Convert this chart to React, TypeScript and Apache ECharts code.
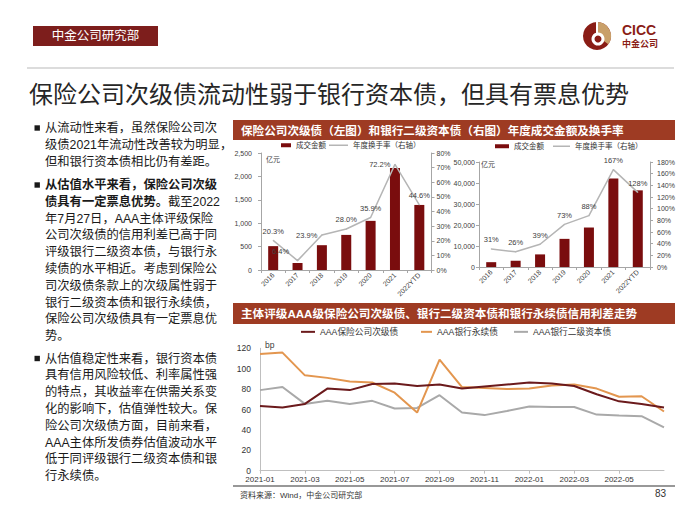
import React, { useEffect, useRef } from "react";
import * as echarts from "echarts";

// ---------------- data ----------------
const YEARS = ["2016", "2017", "2018", "2019", "2020", "2021", "2022YTD"];
const INS_VOLUME = [510, 150, 530, 750, 1050, 2180, 1390]; // 亿元
const INS_TURNOVER = [20.3, 6.4, 23.9, 28.0, 35.9, 72.2, 44.6]; // %
const BANK_VOLUME = [2300, 3000, 6000, 13400, 18800, 42200, 36500]; // 亿元
const BANK_TURNOVER = [31, 26, 39, 73, 88, 167, 128]; // %

const MONTHS = [
  "2021-01", "2021-02", "2021-03", "2021-04", "2021-05", "2021-06", "2021-07",
  "2021-08", "2021-09", "2021-10", "2021-11", "2021-12", "2022-01", "2022-02",
  "2022-03", "2022-04", "2022-05", "2022-06", "2022-07",
];
const INS_SPREAD = [63.5, 62, 65.5, 80.5, 79, 85, 85.5, 83, 84.5, 80.5, 82.5, 84.5, 86.5, 85.5, 83, 75, 68, 65.5, 62];
const PERP_SPREAD = [114.5, 115.8, 93.5, 91, 87.5, 86.5, 76.5, 57, 109, 82, 81, 80, 80.5, 83.5, 84.5, 80.5, 72.5, 73, 58];
const TIER2_SPREAD = [79, 82, 65.5, 68.5, 65.5, 68.5, 61, 61.5, 74, 57, 54.5, 58.5, 63, 62.5, 62.5, 55, 54, 53.5, 42.5];

const S_VOLUME = "成交金额";
const S_TURNOVER = "年度换手率（右轴）";
const S_INS = "AAA保险公司次级债";
const S_PERP = "AAA银行永续债";
const S_TIER2 = "AAA银行二级资本债";

const PAGE_TITLE = "保险公司次级债流动性弱于银行资本债，但具有票息优势";
const DEPT = "中金公司研究部";
const HEADER_1 = "保险公司次级债（左图）和银行二级资本债（右图）年度成交金额及换手率";
const HEADER_2 = "主体评级AAA级保险公司次级债、银行二级资本债和银行永续债信用利差走势";
const SOURCE = "资料来源：Wind，中金公司研究部";
const PAGE_NO = "83";

const PARAGRAPHS: string[][] = [
  ["从流动性来看，虽然保险公司次", "级债2021年流动性改善较为明显，", "但和银行资本债相比仍有差距。"],
  [
    "从估值水平来看，保险公司次级", "债具有一定票息优势。截至2022", "年7月27日，AAA主体评级保险",
    "公司次级债的信用利差已高于同", "评级银行二级资本债，与银行永", "续债的水平相近。考虑到保险公",
    "司次级债条款上的次级属性弱于", "银行二级资本债和银行永续债，", "保险公司次级债具有一定票息优", "势。",
  ],
  [
    "从估值稳定性来看，银行资本债", "具有信用风险较低、利率属性强", "的特点，其收益率在供需关系变",
    "化的影响下，估值弹性较大。保", "险公司次级债方面，目前来看，", "AAA主体所发债券估值波动水平",
    "低于同评级银行二级资本债和银", "行永续债。",
  ],
];
// bold prefix length per [paragraph, line]
const BOLD_PREFIX: Record<string, number> = { "1-0": 14, "1-1": 10 };

// ---------------- styles ----------------
const FONT = "'Liberation Sans', 'Noto Sans CJK SC', 'Noto Sans', sans-serif";
const DARK_RED = "#7d1e1c";
const HEADER_RED = "#9e3b23";
const BAR_RED = "#7a0d0e";
const TURN_GREY = "#b5b5b5";
const AXIS_GREY = "#a6a6a6";
const TEXT = "#262626";

function barXAxis(gridIndex: number) {
  return {
    type: "category",
    gridIndex,
    data: YEARS,
    axisLine: { show: true, lineStyle: { color: AXIS_GREY, width: 1 } },
    axisTick: { show: true, length: 3, lineStyle: { color: AXIS_GREY } },
    axisLabel: { fontSize: 7, color: "#404040", rotate: 45, margin: 4, interval: 0, fontFamily: FONT },
    splitLine: { show: false },
  };
}

function valAxis(gridIndex: number, max: number, interval: number, position: string, formatter: any, margin: number) {
  return {
    type: "value",
    gridIndex,
    position,
    min: 0,
    max,
    interval,
    axisLine: { show: true, lineStyle: { color: AXIS_GREY, width: 1 } },
    axisTick: { show: true, length: 3, lineStyle: { color: AXIS_GREY } },
    axisLabel: { fontSize: 7, color: "#404040", margin, formatter, fontFamily: FONT },
    splitLine: { show: false },
  };
}

function legendAt(name: string, left: number, top: number, itemWidth: number, itemHeight: number, fontSize: number) {
  return {
    data: [{ name, icon: "rect", itemStyle: { borderWidth: 0 } }],
    left,
    top,
    padding: 0,
    itemWidth,
    itemHeight,
    selectedMode: false,
    textStyle: { fontSize, color: "#333", fontFamily: FONT },
  };
}

function buildGraphic() {
  const g: any[] = [];
  // dept box
  g.push({ type: "rect", shape: { x: 33, y: 26, width: 125, height: 20 }, style: { fill: DARK_RED } });
  g.push({
    type: "text", x: 95.5, y: 36,
    style: { text: DEPT, fontSize: 12.5, fill: "#fff", fontFamily: FONT, align: "center", verticalAlign: "middle" },
  });
  // logo
  g.push({
    type: "group", x: 597, y: 36,
    children: [
      { type: "circle", shape: { cx: 0, cy: 0, r: 14 }, style: { fill: "#8a1d16" } },
      { type: "sector", shape: { cx: 0, cy: 0, r: 14, r0: 0, startAngle: -Math.PI / 2, endAngle: Math.PI / 5, clockwise: true }, style: { fill: "#c9a06a" } },
      { type: "circle", shape: { cx: 1, cy: 3, r: 6.5 }, style: { fill: "#fff" } },
      { type: "circle", shape: { cx: 1, cy: 3, r: 3.5 }, style: { fill: "#8a1d16" } },
      { type: "rect", shape: { x: -1, y: -14, width: 2, height: 12 }, style: { fill: "#fff" } },
    ],
  });
  g.push({
    type: "text", x: 622, y: 30,
    style: { text: "CICC", fontSize: 14, fontWeight: "bold", fill: "#8a1d16", fontFamily: FONT, verticalAlign: "middle" },
  });
  g.push({
    type: "text", x: 622, y: 43.5,
    style: { text: "中金公司", fontSize: 9, fontWeight: "bold", fill: "#8a1d16", fontFamily: FONT, verticalAlign: "middle" },
  });
  // separator
  g.push({ type: "line", shape: { x1: 27, y1: 68, x2: 674, y2: 68 }, style: { stroke: "#d0d0d0", lineWidth: 1.5 } });
  // page title
  g.push({
    type: "text", x: 29, y: 94,
    style: { text: PAGE_TITLE, fontSize: 24, fill: TEXT, fontFamily: FONT, verticalAlign: "middle" },
  });
  // left text column
  const starts = [128, 185, 358.5];
  const pitch = 16.8;
  PARAGRAPHS.forEach((lines, p) => {
    g.push({ type: "rect", shape: { x: 34.5, y: starts[p] - 2.7, width: 5.4, height: 5.4 }, style: { fill: "#1a1a1a" } });
    lines.forEach((line, k) => {
      const bold = BOLD_PREFIX[`${p}-${k}`] || 0;
      const text = bold > 0 ? `{b|${line.slice(0, bold)}}${line.slice(bold)}` : line;
      g.push({
        type: "text", x: 45, y: starts[p] + k * pitch,
        style: {
          text, fontSize: 12.3, fill: "#1a1a1a", fontFamily: FONT, verticalAlign: "middle",
          rich: { b: { fontSize: 12.3, fontWeight: "bold", fill: "#1a1a1a", fontFamily: FONT } },
        },
      });
    });
  });
  // section headers
  g.push({ type: "rect", shape: { x: 233, y: 120, width: 442, height: 20 }, style: { fill: HEADER_RED } });
  g.push({
    type: "text", x: 241, y: 130,
    style: { text: HEADER_1, fontSize: 11.6, fontWeight: "bold", fill: "#fff", fontFamily: FONT, verticalAlign: "middle" },
  });
  g.push({ type: "rect", shape: { x: 233, y: 303, width: 442, height: 21 }, style: { fill: HEADER_RED } });
  g.push({
    type: "text", x: 241, y: 313.5,
    style: { text: HEADER_2, fontSize: 11.6, fontWeight: "bold", fill: "#fff", fontFamily: FONT, verticalAlign: "middle" },
  });
  // unit labels
  g.push({ type: "text", x: 266, y: 159, style: { text: "亿元", fontSize: 7, fill: "#404040", fontFamily: FONT, verticalAlign: "middle" } });
  g.push({ type: "text", x: 481, y: 164, style: { text: "亿元", fontSize: 7, fill: "#404040", fontFamily: FONT, verticalAlign: "middle" } });
  g.push({ type: "text", x: 265, y: 345, style: { text: "bp", fontSize: 8.5, fill: "#404040", fontFamily: FONT, verticalAlign: "middle" } });
  // footer
  g.push({ type: "line", shape: { x1: 233, y1: 486, x2: 675, y2: 486 }, style: { stroke: "#333", lineWidth: 1.2 } });
  g.push({ type: "text", x: 240, y: 495, style: { text: SOURCE, fontSize: 8, fill: "#333", fontFamily: FONT, verticalAlign: "middle" } });
  g.push({ type: "text", x: 655, y: 493, style: { text: PAGE_NO, fontSize: 10, fill: "#333", fontFamily: FONT, verticalAlign: "middle" } });
  return g;
}

const INS_LABEL_OVERRIDE: Record<number, any> = {
  1: { position: "top", offset: [-17, 0] },
  2: { position: "left", distance: 4 },
  5: { position: "left", distance: 4 },
};

function buildOption() {
  const labelBase = { show: true, fontSize: 7.5, color: "#404040", fontFamily: FONT };
  const monthInterval = (i: number) => i % 2 === 0 && i < MONTHS.length - 1;
  return {
    animation: false,
    backgroundColor: "#fff",
    textStyle: { fontFamily: FONT },
    grid: [
      { left: 261, top: 153, width: 170.5, height: 117, outerBoundsMode: "none", containLabel: false },
      { left: 479, top: 162, width: 171, height: 105, outerBoundsMode: "none", containLabel: false },
      { left: 260, top: 348.3, width: 404, height: 122.4, outerBoundsMode: "none", containLabel: false },
    ],
    legend: [
      legendAt(S_VOLUME, 281, 141.5, 10, 4, 7.5),
      legendAt(S_TURNOVER, 329, 141.5, 19, 1.5, 7.5),
      legendAt(S_VOLUME, 495, 142.5, 14, 4, 7.5),
      legendAt(S_TURNOVER, 553, 142.5, 17, 1.5, 7.5),
      legendAt(S_INS, 301, 327.5, 14, 2, 8.7),
      legendAt(S_PERP, 421, 327.5, 11, 2, 8.7),
      legendAt(S_TIER2, 514, 327.5, 14, 2, 8.7),
    ],
    xAxis: [
      barXAxis(0),
      barXAxis(1),
      {
        type: "category",
        gridIndex: 2,
        data: MONTHS,
        boundaryGap: false,
        axisLine: { show: true, lineStyle: { color: "#bfbfbf", width: 1 } },
        axisTick: { show: true, length: 3, interval: monthInterval, lineStyle: { color: "#bfbfbf" } },
        axisLabel: { fontSize: 8, color: "#333", margin: 5, interval: monthInterval, fontFamily: FONT },
        splitLine: { show: false },
      },
    ],
    yAxis: [
      valAxis(0, 2500, 500, "left", (v: number) => v.toLocaleString("en-US"), 9),
      valAxis(0, 80, 10, "right", "{value}%", 5),
      valAxis(1, 50000, 10000, "left", "{value}", 4),
      valAxis(1, 180, 20, "right", "{value}%", 7),
      {
        type: "value",
        gridIndex: 2,
        min: 0,
        max: 120,
        interval: 20,
        axisLine: { show: true, lineStyle: { color: "#bfbfbf", width: 1 } },
        axisTick: { show: false },
        axisLabel: { fontSize: 8.5, color: "#333", margin: 9, fontFamily: FONT },
        splitLine: { show: false },
      },
    ],
    series: [
      {
        name: S_VOLUME, type: "bar", xAxisIndex: 0, yAxisIndex: 0, data: INS_VOLUME,
        barWidth: 10, itemStyle: { color: BAR_RED }, z: 2,
      },
      {
        name: S_TURNOVER, type: "line", xAxisIndex: 0, yAxisIndex: 1,
        data: INS_TURNOVER.map((v, i) => ({ value: v, label: INS_LABEL_OVERRIDE[i] || {} })),
        symbol: "circle", symbolSize: 1, showSymbol: true,
        itemStyle: { color: TURN_GREY }, lineStyle: { color: TURN_GREY, width: 1.5 },
        label: { ...labelBase, position: "top", distance: 5, formatter: (p: any) => `${Number(p.value).toFixed(1)}%` },
        z: 3,
      },
      {
        name: S_VOLUME, type: "bar", xAxisIndex: 1, yAxisIndex: 2, data: BANK_VOLUME,
        barWidth: 10, itemStyle: { color: BAR_RED }, z: 2,
      },
      {
        name: S_TURNOVER, type: "line", xAxisIndex: 1, yAxisIndex: 3, data: BANK_TURNOVER,
        symbol: "circle", symbolSize: 1, showSymbol: true,
        itemStyle: { color: TURN_GREY }, lineStyle: { color: TURN_GREY, width: 1.5 },
        label: { ...labelBase, position: "top", distance: 5, formatter: "{c}%" },
        z: 3,
      },
      {
        name: S_INS, type: "line", xAxisIndex: 2, yAxisIndex: 4, data: INS_SPREAD,
        symbol: "none", itemStyle: { color: "#6b1a1c" }, lineStyle: { color: "#6b1a1c", width: 2 }, z: 4,
      },
      {
        name: S_PERP, type: "line", xAxisIndex: 2, yAxisIndex: 4, data: PERP_SPREAD,
        symbol: "none", itemStyle: { color: "#e3964f" }, lineStyle: { color: "#e3964f", width: 2 }, z: 3,
      },
      {
        name: S_TIER2, type: "line", xAxisIndex: 2, yAxisIndex: 4, data: TIER2_SPREAD,
        symbol: "none", itemStyle: { color: "#a9a9a9" }, lineStyle: { color: "#a9a9a9", width: 2 }, z: 2,
      },
    ],
    graphic: buildGraphic(),
  };
}

export default function App() {
  const ref = useRef<HTMLDivElement>(null);
  useEffect(() => {
    if (!ref.current) return;
    const chart = echarts.init(ref.current, undefined, { renderer: "svg", width: 700, height: 525 });
    chart.setOption(buildOption() as any);
    return () => chart.dispose();
  }, []);
  return (
    <div
      ref={ref}
      style={{ position: "absolute", left: 0, top: 0, width: 700, height: 525, background: "#fff" }}
    />
  );
}
